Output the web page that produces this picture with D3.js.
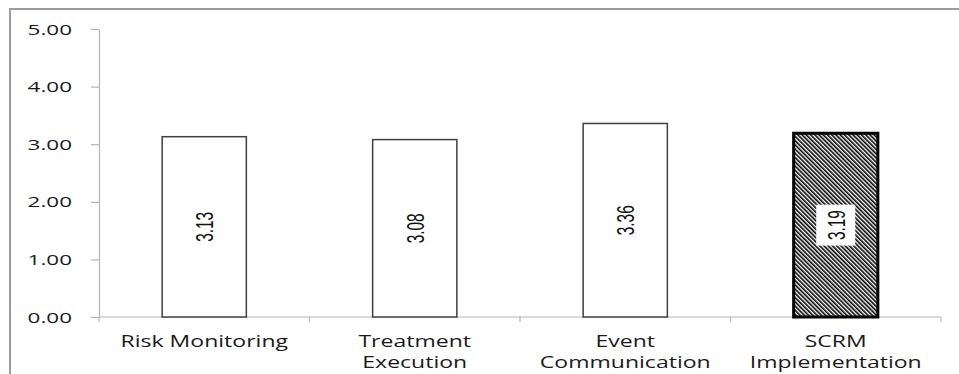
<!DOCTYPE html>
<html>
<head>
<meta charset="utf-8">
<script src="https://cdn.jsdelivr.net/npm/d3@7"></script>
<style>
  html, body { margin: 0; padding: 0; background: #ffffff; }
  svg { display: block; }
</style>
</head>
<body>
<svg id="chart" width="959" height="374"></svg>
<script>
// Mean scores per SCRM dimension
const categories = ["Risk Monitoring", "Treatment Execution", "Event Communication", "SCRM Implementation"];
const values = [3.13, 3.08, 3.36, 3.19];
const highlighted = [false, false, false, true];
const yTicks = [0, 1, 2, 3, 4, 5];

const W = 959, H = 374;
const plot = { left: 99, right: 941, top: 29, bottom: 317 };
const axisColor = "#b4b4b4";
const labelFont = "'Open Sans', sans-serif";
const valueFont = "'Liberation Sans', Arial, sans-serif";
const textStretch = 1.44;   // horizontal stretch of axis text
const tickStretch = 1.55;
const valueStretch = 1.6;

const svg = d3.select("#chart");

// Hatch fill for the overall implementation bar
const defs = svg.append("defs");
const pat = defs.append("pattern")
  .attr("id", "hatch")
  .attr("patternUnits", "userSpaceOnUse")
  .attr("width", 3).attr("height", 3)
  .attr("patternTransform", "rotate(-45)");
pat.append("rect").attr("width", 3).attr("height", 3).attr("fill", "#ffffff");
pat.append("rect").attr("width", 1.6).attr("height", 3).attr("fill", "#000000");

// Outer frame (left and top edges)
svg.append("path")
  .attr("d", `M10,${H} V9 H${W}`)
  .attr("fill", "none")
  .attr("stroke", "#9c9c9c")
  .attr("stroke-width", 2);

const x = d3.scaleBand()
  .domain(categories)
  .range([plot.left, plot.right])
  .paddingInner(0.6)
  .paddingOuter(0.3);

const y = d3.scaleLinear()
  .domain([0, 5])
  .range([plot.bottom, plot.top]);

// Y axis
const yAxis = svg.append("g")
  .attr("transform", `translate(${plot.left},0)`)
  .call(d3.axisLeft(y).tickValues(yTicks).tickFormat(d3.format(".2f")).tickSize(8).tickSizeOuter(0));
yAxis.select(".domain").attr("stroke", axisColor).attr("stroke-width", 1.2);
yAxis.selectAll(".tick line").attr("stroke", axisColor).attr("stroke-width", 1.2);
yAxis.selectAll(".tick text")
  .attr("x", 0).attr("dy", "0.35em")
  .attr("text-anchor", "end")
  .attr("transform", `translate(-27,0) scale(${tickStretch},1)`)
  .attr("font-family", labelFont)
  .attr("font-size", 14.5)
  .attr("fill", "#1a1a1a");

// X axis: baseline with tick marks at category boundaries
const xAxis = svg.append("g");
xAxis.append("line")
  .attr("x1", plot.left).attr("x2", plot.right)
  .attr("y1", y(0)).attr("y2", y(0))
  .attr("stroke", axisColor).attr("stroke-width", 1.2);
const boundaries = d3.range(categories.length + 1).map(i => x.range()[0] + i * x.step());
xAxis.selectAll("line.tick")
  .data(boundaries)
  .join("line")
  .attr("class", "tick")
  .attr("x1", d => d).attr("x2", d => d)
  .attr("y1", y(0)).attr("y2", y(0) + 5)
  .attr("stroke", axisColor).attr("stroke-width", 1.2);

// Category labels, wrapped when wider than a band
const catG = svg.append("g")
  .attr("font-family", labelFont)
  .attr("font-size", 16)
  .attr("fill", "#1a1a1a");
categories.forEach(cat => {
  const cx = x(cat) + x.bandwidth() / 2;
  const probe = catG.append("text").text(cat);
  const wide = probe.node().getComputedTextLength() * textStretch > x.step() - 4;
  probe.remove();
  const lines = wide ? cat.split(" ") : [cat];
  lines.forEach((line, i) => {
    catG.append("text")
      .attr("text-anchor", "middle")
      .attr("transform", `translate(${cx},${347 + i * 21}) scale(${textStretch},1)`)
      .text(line);
  });
});

// Bars
const data = categories.map((c, i) => ({ cat: c, value: values[i], hi: highlighted[i] }));
svg.append("g")
  .selectAll("rect")
  .data(data)
  .join("rect")
  .attr("x", d => x(d.cat))
  .attr("width", x.bandwidth())
  .attr("y", d => y(d.value))
  .attr("height", d => y(0) - y(d.value))
  .attr("fill", d => d.hi ? "url(#hatch)" : "#ffffff")
  .attr("stroke", d => d.hi ? "#000000" : "#404040")
  .attr("stroke-width", d => d.hi ? 3 : 1.5);

// Rotated value labels inside the bars, on a white box
const valG = svg.append("g");
data.forEach(d => {
  const cx = x(d.cat) + x.bandwidth() / 2;
  const cy = (y(d.value) + y(0)) / 2;
  const g = valG.append("g")
    .attr("transform", `translate(${cx},${cy}) scale(${valueStretch},1) rotate(-90)`);
  const box = g.append("rect").attr("fill", "#ffffff");
  const t = g.append("text")
    .attr("text-anchor", "middle")
    .attr("dy", "0.36em")
    .attr("font-family", valueFont)
    .attr("font-size", 15.4)
    .attr("fill", "#111")
    .text(d3.format(".2f")(d.value));
  const bb = t.node().getBBox();
  box.attr("x", bb.x - 5.5).attr("y", -12.2)
     .attr("width", bb.width + 11).attr("height", 24.4);
});
</script>
</body>
</html>
